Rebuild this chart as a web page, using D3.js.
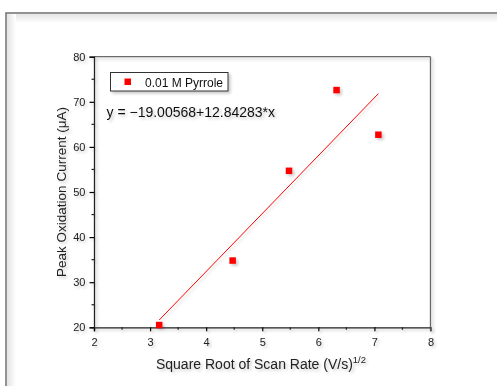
<!DOCTYPE html>
<html><head><meta charset="utf-8">
<script src="https://cdn.jsdelivr.net/npm/d3@7"></script>
<style>body{margin:0;background:#fff}svg{display:block;font-family:Arial,"Liberation Sans",sans-serif}</style>
</head><body>
<script>
const xValues = [3.162, 4.472, 5.477, 6.325, 7.071];
const yValues = [20.5, 34.8, 54.7, 72.6, 62.7];
const fitIntercept = -19.00568, fitSlope = 12.84283;
const xTicks = [2, 3, 4, 5, 6, 7, 8];
const yTicks = [20, 30, 40, 50, 60, 70, 80];
const seriesName = "0.01 M Pyrrole";
const equationText = "y = \u221219.00568+12.84283*x";

const W = 497, H = 386;
const svg = d3.select("body").append("svg").attr("width", W).attr("height", H);
const defs = svg.append("defs");
const f = defs.append("filter").attr("id","sh").attr("x","-20%").attr("y","-20%").attr("width","150%").attr("height","150%");
f.append("feGaussianBlur").attr("in","SourceAlpha").attr("stdDeviation",1.6).attr("result","b");
f.append("feOffset").attr("in","b").attr("dx",2).attr("dy",2).attr("result","o");
f.append("feComponentTransfer").attr("in","o").attr("result","o2").append("feFuncA").attr("type","linear").attr("slope",0.22);
const m = f.append("feMerge"); m.append("feMergeNode").attr("in","o2"); m.append("feMergeNode").attr("in","SourceGraphic");

// outer frame with soft inner shadow
svg.append("rect").attr("x",6).attr("y",13).attr("width",520).attr("height",420)
  .attr("fill","#fff").attr("stroke","#6f6f6f").attr("stroke-width",1.5);
const g0 = defs.append("linearGradient").attr("id","gt").attr("x1",0).attr("y1",0).attr("x2",0).attr("y2",1);
g0.append("stop").attr("offset",0).attr("stop-color","#e4e4e4");
g0.append("stop").attr("offset",1).attr("stop-color","#fff");
const g1 = defs.append("linearGradient").attr("id","gl").attr("x1",0).attr("y1",0).attr("x2",1).attr("y2",0);
g1.append("stop").attr("offset",0).attr("stop-color","#e4e4e4");
g1.append("stop").attr("offset",1).attr("stop-color","#fff");
svg.append("rect").attr("x",7).attr("y",14).attr("width",490).attr("height",9).attr("fill","url(#gt)");
svg.append("rect").attr("x",7).attr("y",14).attr("width",9).attr("height",372).attr("fill","url(#gl)");

const x = d3.scaleLinear().domain([2, 8]).range([94, 430.5]);
const y = d3.scaleLinear().domain([20, 80]).range([327.3, 56.7]);

const plot = svg.append("g").attr("filter","url(#sh)");

// top & right frame lines
plot.append("line").attr("x1",x(2)).attr("x2",x(8)).attr("y1",y(80)).attr("y2",y(80)).attr("stroke","#6a6a6a").attr("stroke-width",1.3);
plot.append("line").attr("x1",x(8)).attr("x2",x(8)).attr("y1",y(80)).attr("y2",y(20)+4).attr("stroke","#6a6a6a").attr("stroke-width",1.3);

// x axis
const xMinor = d3.range(2.5, 8, 1);
const xa = plot.append("g").attr("transform",`translate(0,${y(20)})`)
  .call(d3.axisBottom(x).tickValues(xTicks).tickFormat(d3.format("d")).tickSize(4).tickPadding(7));
xa.selectAll(".tick").filter(d=>d===8).select("line").attr("stroke","#6a6a6a");
xa.selectAll(".tick line").attr("stroke-width",1.2);
xa.select(".domain").attr("stroke","#222").attr("stroke-width",1.3);
xa.selectAll("text").attr("font-size",11).attr("fill","#222").attr("font-family","Arial,'Liberation Sans',sans-serif");
xa.selectAll(".minor").data(xMinor).enter().append("line").attr("class","minor")
  .attr("x1",d=>x(d)).attr("x2",d=>x(d)).attr("y1",0).attr("y2",2.5).attr("stroke","#222").attr("stroke-width",1.2);

// y axis
const yMinor = d3.range(25, 80, 10);
const ya = plot.append("g").attr("transform",`translate(${x(2)},0)`)
  .call(d3.axisLeft(y).tickValues(yTicks).tickFormat(d3.format("d")).tickSize(4.5).tickPadding(4));
ya.selectAll(".tick line").attr("stroke-width",1.2);
ya.select(".domain").attr("stroke","#222").attr("stroke-width",1.3);
ya.selectAll("text").attr("font-size",11).attr("fill","#222").attr("font-family","Arial,'Liberation Sans',sans-serif");
ya.selectAll(".minor").data(yMinor).enter().append("line").attr("class","minor")
  .attr("x1",-2.5).attr("x2",0).attr("y1",d=>y(d)).attr("y2",d=>y(d)).attr("stroke","#222").attr("stroke-width",1.2);

// fit line
const xFit = [d3.min(xValues), d3.max(xValues)];
plot.append("line")
  .attr("x1",x(xFit[0])).attr("y1",y(fitIntercept+fitSlope*xFit[0]))
  .attr("x2",x(xFit[1])).attr("y2",y(fitIntercept+fitSlope*xFit[1]))
  .attr("stroke","#ff0000").attr("stroke-width",1);

// points
const s = 6.5;
plot.selectAll(".pt").data(xValues.map((v,i)=>[v,yValues[i]])).enter().append("rect")
  .attr("x",d=>x(d[0])-s/2).attr("y",d=>y(d[1])-s/2).attr("width",s).attr("height",s).attr("fill","#ff0000");

// legend
plot.append("rect").attr("x",110.5).attr("y",72.5).attr("width",117.5).attr("height",18.5)
  .attr("fill","#fff").attr("stroke","#333").attr("stroke-width",1);
plot.append("rect").attr("x",124.5).attr("y",78.5).attr("width",6.5).attr("height",6.5).attr("fill","#ff0000");
plot.append("text").attr("x",145).attr("y",86.5).attr("font-size",12).attr("fill","#111").text(seriesName);

// equation
plot.append("text").attr("x",106.5).attr("y",117).attr("font-size",14).attr("fill","#111").text(equationText);

// axis titles
const xt = plot.append("text").attr("x",261).attr("y",369).attr("text-anchor","middle").attr("font-size",14).attr("fill","#222");
xt.append("tspan").text("Square Root of Scan Rate (V/s)");
xt.append("tspan").attr("dy",-6).attr("font-size",9.5).text("1/2");

plot.append("text").attr("transform",`translate(66,${(y(20)+y(80))/2}) rotate(-90)`)
  .attr("text-anchor","middle").attr("font-size",13.5).attr("fill","#222")
  .text("Peak Oxidation Current (\u03bcA)");
</script>
</body></html>
